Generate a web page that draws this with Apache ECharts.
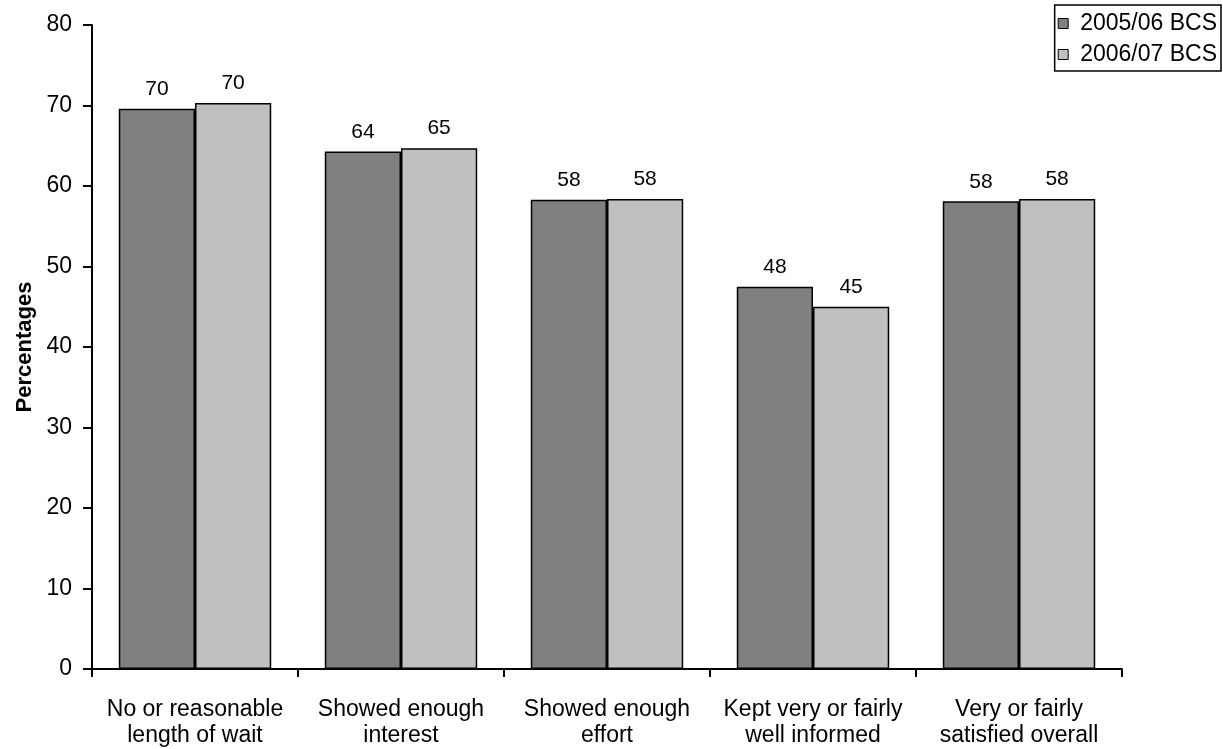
<!DOCTYPE html>
<html>
<head>
<meta charset="utf-8">
<script src="https://cdn.jsdelivr.net/npm/echarts@6/dist/echarts.min.js"></script>
<style>
  html, body { margin: 0; padding: 0; background: #ffffff; }
  #chart { width: 1223px; height: 749px; }
</style>
</head>
<body>
<div id="chart"></div>
<script>
// Police contact satisfaction measures, BCS 2005/06 vs 2006/07
const categories = [
  'No or reasonable\nlength of wait',
  'Showed enough\ninterest',
  'Showed enough\neffort',
  'Kept very or fairly\nwell informed',
  'Very or fairly\nsatisfied overall'
];
const seriesNames = ['2005/06 BCS', '2006/07 BCS'];
const values0506 = [69.6, 64.3, 58.3, 47.5, 58.1];
const values0607 = [70.3, 64.7, 58.4, 45.0, 58.4];
const yTicks = [0, 10, 20, 30, 40, 50, 60, 70, 80];

const FONT = '"Liberation Sans", Arial, sans-serif';
const chart = echarts.init(document.getElementById('chart'), null, { renderer: 'canvas' });

// value labels above each bar, rounded to whole percentages
const barLabel = {
  show: true,
  position: 'top',
  distance: 9,
  color: '#000',
  fontFamily: FONT,
  fontSize: 21,
  formatter: p => Math.round(p.value)
};

chart.setOption({
  animation: false,
  backgroundColor: '#ffffff',
  textStyle: { fontFamily: FONT, color: '#000' },
  grid: { left: 92, right: 101, top: 25, bottom: 77, containLabel: false },
  legend: {
    data: seriesNames,
    orient: 'vertical',
    right: 2,
    top: 5,
    icon: 'rect',
    itemWidth: 10,
    itemHeight: 10,
    itemGap: 8,
    padding: [7, 4, 5, 3],
    borderColor: '#000',
    borderWidth: 1.5,
    itemStyle: { borderColor: '#000', borderWidth: 1 },
    textStyle: { fontFamily: FONT, fontSize: 23, color: '#000', padding: [0, 0, 0, 7] }
  },
  xAxis: {
    type: 'category',
    data: categories,
    axisLine: { show: true, lineStyle: { color: '#000', width: 2 } },
    axisTick: { show: true, length: 8, alignWithLabel: false, lineStyle: { color: '#000', width: 2 } },
    axisLabel: { color: '#000', fontFamily: FONT, fontSize: 23, lineHeight: 26, margin: 28, interval: 0 },
    splitLine: { show: false }
  },
  yAxis: {
    type: 'value',
    min: yTicks[0],
    max: yTicks[yTicks.length - 1],
    interval: 10,
    name: 'Percentages',
    nameLocation: 'middle',
    nameGap: 56,
    nameTextStyle: { fontFamily: FONT, fontSize: 22, fontWeight: 'bold', color: '#000' },
    axisLine: { show: true, lineStyle: { color: '#000', width: 2 } },
    axisTick: { show: true, length: 9, lineStyle: { color: '#000', width: 2 } },
    axisLabel: { color: '#000', fontFamily: FONT, fontSize: 23, margin: 20 },
    splitLine: { show: false }
  },
  series: [
    {
      name: seriesNames[0],
      type: 'bar',
      data: values0506,
      barGap: '0%',
      barCategoryGap: '26%',
      itemStyle: { color: '#808080', borderColor: '#000', borderWidth: 1.5 },
      label: barLabel
    },
    {
      name: seriesNames[1],
      type: 'bar',
      data: values0607,
      itemStyle: { color: '#c0c0c0', borderColor: '#000', borderWidth: 1.5 },
      label: barLabel
    }
  ]
});
</script>
</body>
</html>
